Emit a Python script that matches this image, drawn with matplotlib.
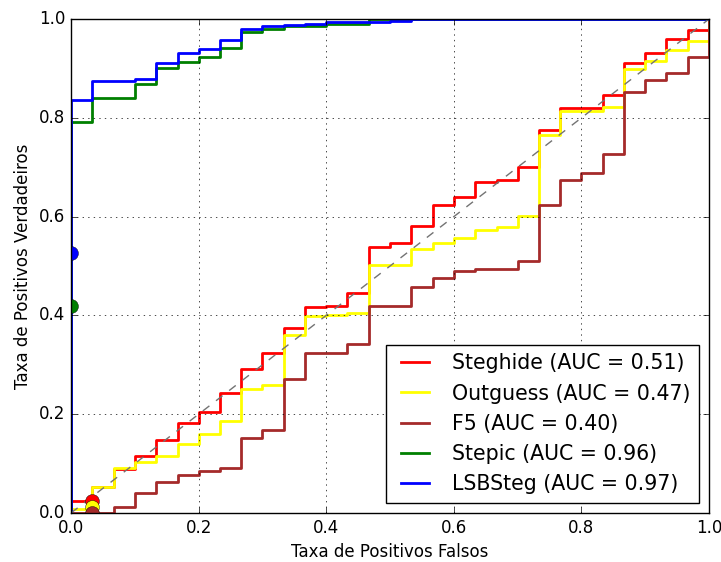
import matplotlib
matplotlib.use('Agg')
from matplotlib import pyplot as plt

# taxa de positivos falsos (comum a todas as curvas)
fpr = [0.0, 0.0, 0.033, 0.067, 0.1, 0.133, 0.167, 0.2, 0.233, 0.267, 0.3,
       0.333, 0.367, 0.4, 0.433, 0.467, 0.5, 0.533, 0.567, 0.6, 0.633,
       0.667, 0.7, 0.733, 0.767, 0.8, 0.833, 0.867, 0.9, 0.933, 0.967, 1.0]

steghide = [0.0, 0.025, 0.053, 0.090, 0.115, 0.148, 0.183, 0.204, 0.242, 0.291,
            0.323, 0.374, 0.416, 0.419, 0.446, 0.539, 0.547, 0.580, 0.623, 0.640,
            0.671, 0.675, 0.701, 0.775, 0.819, 0.819, 0.847, 0.910, 0.932, 0.960,
            0.977, 1.0]
outguess = [0.0, 0.008, 0.052, 0.092, 0.103, 0.115, 0.139, 0.159, 0.187, 0.251,
            0.259, 0.360, 0.399, 0.401, 0.404, 0.502, 0.502, 0.534, 0.546, 0.556,
            0.572, 0.578, 0.601, 0.765, 0.813, 0.813, 0.822, 0.898, 0.915, 0.937,
            0.955, 1.0]
f5 = [0.0, 0.0, 0.0, 0.013, 0.040, 0.063, 0.076, 0.085, 0.092, 0.152,
      0.169, 0.271, 0.323, 0.323, 0.343, 0.420, 0.420, 0.457, 0.475, 0.490,
      0.493, 0.493, 0.510, 0.623, 0.674, 0.688, 0.726, 0.852, 0.876, 0.891,
      0.924, 1.0]
stepic = [0.0, 0.791, 0.841, 0.841, 0.868, 0.900, 0.913, 0.924, 0.941, 0.974,
          0.980, 0.985, 0.985, 0.990, 0.990, 1.0, 1.0, 1.0, 1.0, 1.0,
          1.0, 1.0, 1.0, 1.0, 1.0, 1.0, 1.0, 1.0, 1.0, 1.0,
          1.0, 1.0]
lsbsteg = [0.0, 0.837, 0.874, 0.874, 0.879, 0.911, 0.931, 0.939, 0.958, 0.980,
           0.986, 0.988, 0.990, 0.993, 0.993, 0.993, 0.996, 1.0, 1.0, 1.0,
           1.0, 1.0, 1.0, 1.0, 1.0, 1.0, 1.0, 1.0, 1.0, 1.0,
           1.0, 1.0]

labels = ['Steghide (AUC = 0.51)', 'Outguess (AUC = 0.47)', 'F5 (AUC = 0.40)',
          'Stepic (AUC = 0.96)', 'LSBSteg (AUC = 0.97)']
colors = ['red', 'yellow', 'brown', 'green', 'blue']

# pontos de operacao marcados
pt_x = [0.033, 0.033, 0.033, 0.0, 0.0]
pt_y = [0.025, 0.012, 0.0, 0.42, 0.527]

plt.style.use('classic')
fig = plt.figure(figsize=(7.21, 5.62), dpi=100)
ax = fig.add_axes([0.0985, 0.0872, 0.885, 0.879])

for tpr, lab, c in zip([steghide, outguess, f5, stepic, lsbsteg], labels, colors):
    ax.step(fpr, tpr, where='post', color=c, lw=2, label=lab)

ax.plot([0, 1], [0, 1], '--', color='0.45', lw=1)

for x, y, c in zip(pt_x, pt_y, colors):
    ax.plot(x, y, 'o', color=c, markersize=10, markeredgecolor='k',
            markeredgewidth=0.3)

ax.set_xlim(0, 1)
ax.set_ylim(0, 1)
ax.grid(True)
ax.set_xlabel('Taxa de Positivos Falsos')
ax.set_ylabel('Taxa de Positivos Verdadeiros')
ax.legend(loc='lower right', fontsize=14.8)

fig.savefig('out.png', dpi=100)
